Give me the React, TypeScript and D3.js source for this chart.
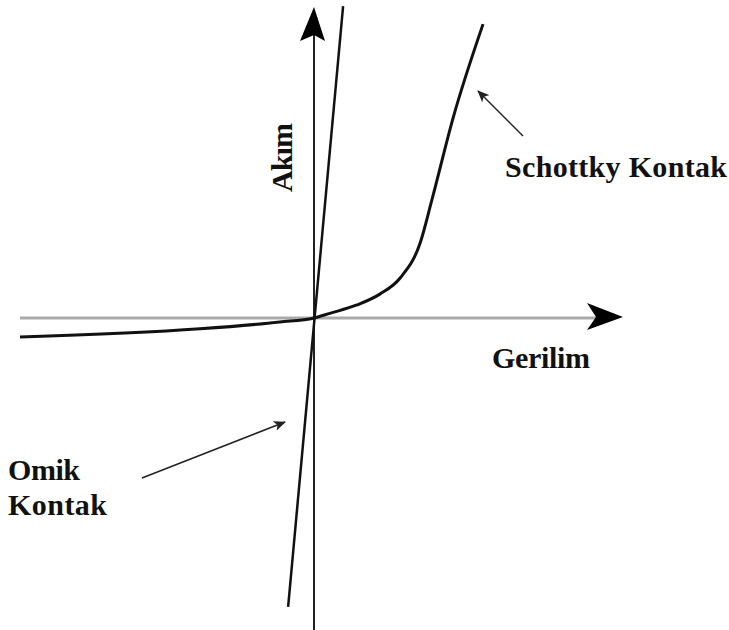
import React from "react";
import * as d3 from "d3";

// Schottky contact I-V curve (arbitrary units: voltage, current)
const schottkyV = [-10, -3.88, -1.16, 0, 0.54, 1.46, 2.24, 2.93, 3.61, 4.01, 4.73, 5.75];
const schottkyI = [-0.61, -0.35, -0.13, 0, 0.15, 0.42, 0.77, 1.29, 2.42, 3.81, 6.45, 9.48];
// Ohmic contact: straight line
const ohmicV = [-0.88, 0.99];
const ohmicI = [-9.32, 10.06];

const axisLabels = { x: "Gerilim", y: "Akım" };
const annotations = ["Schottky Kontak", "Omik", "Kontak"];

const W = 729;
const H = 630;

export default function App() {
  const x = d3.scaleLinear().domain([-10, 10]).range([20, 608]);
  const y = d3.scaleLinear().domain([-10, 10]).range([628, 8]);

  const curve = d3
    .line<[number, number]>()
    .x((d) => x(d[0]))
    .y((d) => y(d[1]))
    .curve(d3.curveMonotoneX);
  const straight = d3
    .line<[number, number]>()
    .x((d) => x(d[0]))
    .y((d) => y(d[1]));

  const schottky: [number, number][] = schottkyV.map((v, i) => [v, schottkyI[i]]);
  const ohmic: [number, number][] = ohmicV.map((v, i) => [v, ohmicI[i]]);

  const x0 = x(0);
  const y0 = y(0);
  const font = "'Liberation Serif', 'Times New Roman', serif";

  return (
    <svg
      width={W}
      height={H}
      style={{ position: "absolute", left: 0, top: 0, background: "#fff" }}
    >
      <defs>
        <marker
          id="sm"
          viewBox="0 0 12 10"
          refX="11"
          refY="5"
          markerWidth="12"
          markerHeight="10"
          markerUnits="userSpaceOnUse"
          orient="auto"
        >
          <path d="M0,0 L12,5 L0,10 L3,5 Z" fill="#222" />
        </marker>
      </defs>

      {/* horizontal axis (gray) */}
      <line x1={20} y1={y0} x2={598} y2={y0} stroke="#aaa" strokeWidth={3} />
      <path
        d={`M623,${y0 - 1} L587,${y0 - 15} L596,${y0 - 1} L587,${y0 + 12} Z`}
        fill="#000"
      />

      {/* vertical axis */}
      <line x1={x0} y1={630} x2={x0} y2={34} stroke="#222" strokeWidth={2} />
      <path d={`M${x0},7 L${x0 + 11},41 L${x0},35 L${x0 - 14},41 Z`} fill="#000" />

      {/* ohmic line */}
      <path d={straight(ohmic) || ""} fill="none" stroke="#111" strokeWidth={2.5} />

      {/* schottky curve */}
      <path d={curve(schottky) || ""} fill="none" stroke="#111" strokeWidth={3} />

      {/* annotation arrows */}
      <line x1={523} y1={136} x2={478} y2={91} stroke="#222" strokeWidth={1.5} markerEnd="url(#sm)" />
      <line x1={142} y1={478} x2={285} y2={422} stroke="#222" strokeWidth={1.5} markerEnd="url(#sm)" />

      {/* texts */}
      <g fontFamily={font} fontWeight="bold" fontSize={30} fill="#111">
        <text x={505} y={177} textLength={222} lengthAdjust="spacing">{annotations[0]}</text>
        <text x={492} y={368} textLength={98} lengthAdjust="spacing">{axisLabels.x}</text>
        <text x={8} y={480} textLength={72} lengthAdjust="spacing">{annotations[1]}</text>
        <text x={8} y={515} textLength={99} lengthAdjust="spacing">{annotations[2]}</text>
        <text transform="translate(292,192) rotate(-90)" textLength={69} lengthAdjust="spacing">{axisLabels.y}</text>
      </g>
    </svg>
  );
}
